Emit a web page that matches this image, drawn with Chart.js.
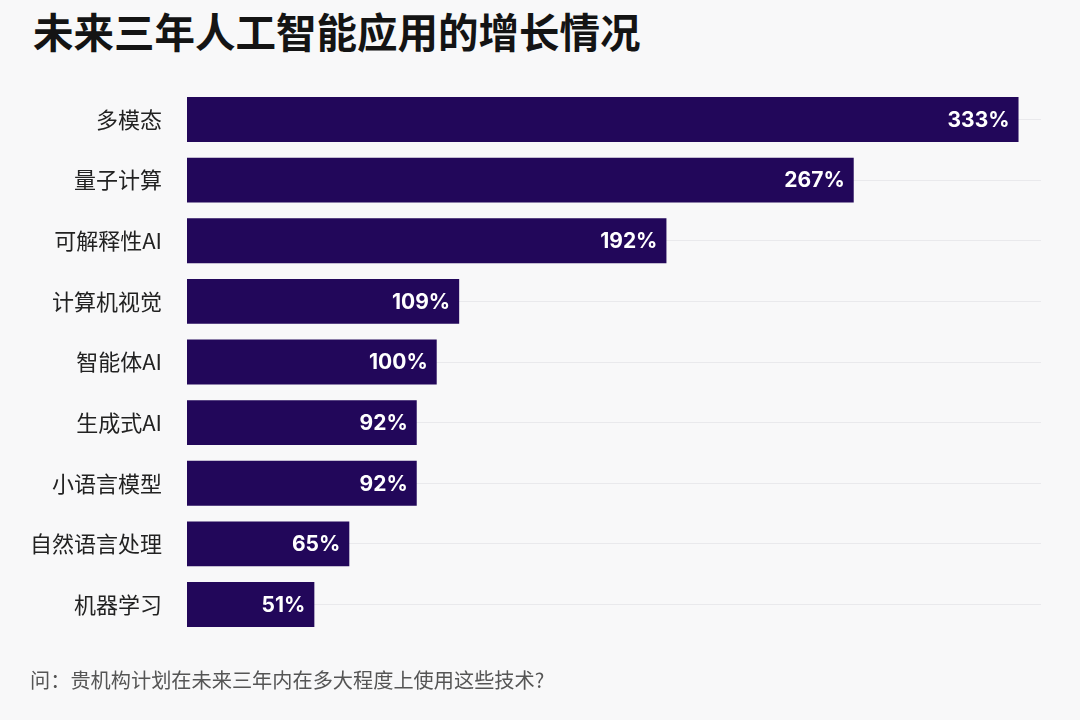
<!DOCTYPE html>
<html lang="zh">
<head>
  <meta charset="UTF-8" />
  <title>未来三年人工智能应用的增长情况</title>
  <script src="https://cdn.jsdelivr.net/npm/chart.js"></script>
  <style>
    html, body { margin: 0; padding: 0; background: #f8f8f9; }
    body { width: 1080px; height: 720px; position: relative; overflow: hidden;
           font-family: "Noto Sans CJK SC", "Noto Sans", sans-serif; }
    h1 { position: absolute; left: 33px; top: 1px; margin: 0;
         font-size: 40.5px; font-weight: 700; color: #141414; }
    #growthChart { position: absolute; left: 0; top: 51px; }
    .note { position: absolute; left: 30px; top: 665px; margin: 0;
            font-size: 20.2px; color: #555; }
  </style>
</head>
<body>
  <h1>未来三年人工智能应用的增长情况</h1>
  <canvas id="growthChart" width="1080" height="622"></canvas>
  <p class="note">问：贵机构计划在未来三年内在多大程度上使用这些技术?</p>

  <script>
    const categories = ['多模态', '量子计算', '可解释性AI', '计算机视觉', '智能体AI',
                        '生成式AI', '小语言模型', '自然语言处理', '机器学习'];
    const growth = [333, 267, 192, 109, 100, 92, 92, 65, 51];

    // white value labels inside the bar end
    const barValues = {
      id: 'barValues',
      afterDatasetsDraw(chart) {
        const ctx = chart.ctx;
        const meta = chart.getDatasetMeta(0);
        ctx.save();
        ctx.fillStyle = '#ffffff';
        ctx.font = 'bold 21px Inter, Lato, sans-serif';
        ctx.textAlign = 'right';
        ctx.textBaseline = 'middle';
        meta.data.forEach(function(bar, i) {
          ctx.fillText(growth[i] + '%', bar.x - 9, bar.y + 1);
        });
        ctx.restore();
      }
    };

    const ctx = document.getElementById('growthChart').getContext('2d');
    new Chart(ctx, {
      type: 'bar',
      data: {
        labels: categories,
        datasets: [{
          data: growth,
          backgroundColor: '#22075a',
          borderWidth: 0,
          barPercentage: 0.74,
          categoryPercentage: 1.0
        }]
      },
      options: {
        indexAxis: 'y',
        responsive: false,
        animation: false,
        layout: { padding: { left: 5, right: 39, top: 9, bottom: 10 } },
        plugins: {
          legend: { display: false },
          tooltip: { enabled: false }
        },
        scales: {
          x: {
            display: false,
            min: 0,
            max: 342
          },
          y: {
            border: { display: false },
            grid: {
              offset: false,
              color: '#e9e9ec',
              lineWidth: 1,
              drawTicks: false
            },
            ticks: {
              color: '#222',
              padding: 25,
              font: { family: '"Noto Sans CJK SC", "Noto Sans", sans-serif', size: 22 }
            }
          }
        }
      },
      plugins: [barValues]
    });
  </script>
</body>
</html>
